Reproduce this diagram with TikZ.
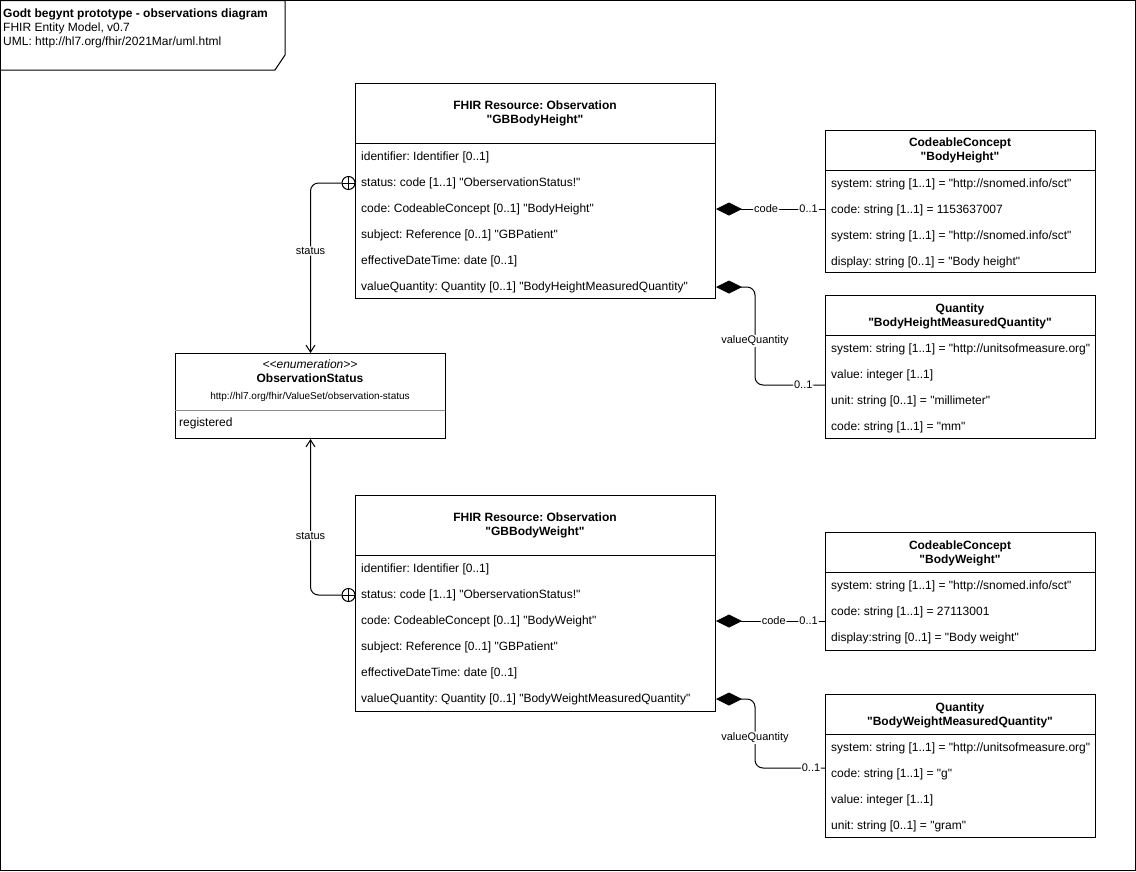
\documentclass[tikz,border=0pt]{standalone}
\usepackage{fontspec}
\setmainfont{Liberation Sans}[Ligatures=TeXOff]
\usetikzlibrary{arrows.meta}
\frenchspacing
\begin{document}
\begin{tikzpicture}[x=1pt,y=-1pt,
  box/.style={draw, line width=1pt, inner sep=0, anchor=north west},
  row/.style={anchor=west, inner sep=0, font=\fontsize{12}{14}\selectfont},
  hdr/.style={inner sep=0, align=center, font=\fontsize{12}{14}\selectfont\bfseries},
  lbl/.style={fill=white, inner sep=1pt, font=\fontsize{11}{13}\selectfont},
  comp/.style={line width=1pt, {Diamond[length=26pt,width=13pt]}-, rounded corners=8pt},
  assoc/.style={line width=1pt, -{Straight Barb[length=7pt,width=9pt]}, rounded corners=8pt},
  sep/.style={line width=1pt},
  cplus/.style={circle, draw, line width=1pt, fill=white, minimum size=13pt, inner sep=0}
]
\useasboundingbox (0,0) rectangle (1136,871);
% frame
\draw[line width=1pt] (0.5,0.5) rectangle (1135.5,870.5);
\draw[line width=1pt] (0.5,0.5) -- (285,0.5) -- (285,55) -- (275,70) -- (0.5,70);
\node[row, font=\fontsize{12}{14}\selectfont\bfseries] (t1) at (3,14) {Godt begynt prototype - observations diagram};
\node[row] (t2) at (3,28) {FHIR Entity Model, v0.7};
\node[row] (t3) at (3,42) {UML: http://hl7.org/fhir/2021Mar/uml.html};

% Observation 1
\node[box, minimum width=360pt, minimum height=215pt] (obs1) at (355,83) {};
\draw[sep] (355,143) -- (715,143);
\node[hdr] (o1h) at (535,113) {FHIR Resource: Observation\\"GBBodyHeight"};
\node[row] (o1r1) at (361,157) {identifier: Identifier [0..1]};
\node[row] (o1r2) at (361,183) {status: code [1..1] "OberservationStatus!"};
\node[row] (o1r3) at (361,209) {code: CodeableConcept [0..1] "BodyHeight"};
\node[row] (o1r4) at (361,235) {subject: Reference [0..1] "GBPatient"};
\node[row] (o1r5) at (361,261) {effectiveDateTime: date [0..1]};
\node[row] (o1r6) at (361,287) {valueQuantity: Quantity [0..1] "BodyHeightMeasuredQuantity"};

% CodeableConcept BodyHeight
\node[box, minimum width=270pt, minimum height=142pt] (cc1) at (825,130) {};
\draw[sep] (825,170) -- (1095,170);
\node[hdr] (cc1h) at (960,150) {CodeableConcept\\"BodyHeight"};
\node[row] (cc1r1) at (831,184) {system: string [1..1] = "http://snomed.info/sct"};
\node[row] (cc1r2) at (831,210) {code: string [1..1] = 1153637007};
\node[row] (cc1r3) at (831,236) {system: string [1..1] = "http://snomed.info/sct"};
\node[row] (cc1r4) at (831,262) {display: string [0..1] = "Body height"};

% Quantity BodyHeightMeasuredQuantity
\node[box, minimum width=270pt, minimum height=143pt] (q1) at (825,295) {};
\draw[sep] (825,335) -- (1095,335);
\node[hdr] (q1h) at (960,316) {Quantity\\"BodyHeightMeasuredQuantity"};
\node[row] (q1r1) at (831,349) {system: string [1..1] = "http://unitsofmeasure.org"};
\node[row] (q1r2) at (831,375) {value: integer [1..1]};
\node[row] (q1r3) at (831,401) {unit: string [0..1] = "millimeter"};
\node[row] (q1r4) at (831,427) {code: string [1..1] = "mm"};

% ObservationStatus enumeration
\node[box, minimum width=270pt, minimum height=85pt] (enum) at (175,353) {};
\draw[line width=0.6pt, black!45] (175,410) -- (445,410);
\node[inner sep=0, font=\fontsize{12}{14}\selectfont\itshape] (e1) at (310,364) {<<enumeration>>};
\node[inner sep=0, font=\fontsize{12}{14}\selectfont\bfseries] (e2) at (310,378) {ObservationStatus};
\node[inner sep=0, font=\fontsize{10}{12}\selectfont] (e3) at (310,397) {http://hl7.org/fhir/ValueSet/observation-status};
\node[row] (er1) at (179,423) {registered};

% Observation 2
\node[box, minimum width=360pt, minimum height=216pt] (obs2) at (355,495) {};
\draw[sep] (355,555) -- (715,555);
\node[hdr] (o2h) at (535,525) {FHIR Resource: Observation\\"GBBodyWeight"};
\node[row] (o2r1) at (361,569) {identifier: Identifier [0..1]};
\node[row] (o2r2) at (361,595) {status: code [1..1] "OberservationStatus!"};
\node[row] (o2r3) at (361,621) {code: CodeableConcept [0..1] "BodyWeight"};
\node[row] (o2r4) at (361,647) {subject: Reference [0..1] "GBPatient"};
\node[row] (o2r5) at (361,673) {effectiveDateTime: date [0..1]};
\node[row] (o2r6) at (361,699) {valueQuantity: Quantity [0..1] "BodyWeightMeasuredQuantity"};

% CodeableConcept BodyWeight
\node[box, minimum width=270pt, minimum height=118pt] (cc2) at (825,532) {};
\draw[sep] (825,572) -- (1095,572);
\node[hdr] (cc2h) at (960,553) {CodeableConcept\\"BodyWeight"};
\node[row] (cc2r1) at (831,586) {system: string [1..1] = "http://snomed.info/sct"};
\node[row] (cc2r2) at (831,612) {code: string [1..1] = 27113001};
\node[row] (cc2r3) at (831,638) {display:string [0..1] = "Body weight"};

% Quantity BodyWeightMeasuredQuantity
\node[box, minimum width=270pt, minimum height=143pt] (q2) at (825,694) {};
\draw[sep] (825,734) -- (1095,734);
\node[hdr] (q2h) at (960,715) {Quantity\\"BodyWeightMeasuredQuantity"};
\node[row] (q2r1) at (831,748) {system: string [1..1] = "http://unitsofmeasure.org"};
\node[row] (q2r2) at (831,774) {code: string [1..1] = "g"};
\node[row] (q2r3) at (831,800) {value: integer [1..1]};
\node[row] (q2r4) at (831,826) {unit: string [0..1] = "gram"};

% status associations
\node[cplus] (c1) at (348.5,183) {};
\draw[line width=1pt] (c1.north) -- (c1.south) (c1.west) -- (c1.east);
\draw[assoc] (c1.west) -| node[lbl, pos=0.7] {status} (enum.north);
\node[cplus] (c2) at (348.5,595) {};
\draw[line width=1pt] (c2.north) -- (c2.south) (c2.west) -- (c2.east);
\draw[assoc] (c2.west) -| node[lbl, pos=0.69] {status} (enum.south);

% compositions
\draw[comp] (obs1.east |- o1r3) -- node[lbl, pos=0.46] {code} node[lbl, pos=0.85] {0..1} (cc1.west |- o1r3);
\coordinate (vq1) at (755,385);
\draw[comp] (obs1.east |- o1r6) -| node[lbl, pos=0.775] {valueQuantity} (vq1) -- node[lbl, pos=0.69] {0..1} (q1.west |- vq1);
\draw[comp] (obs2.east |- o2r3) -- node[lbl, pos=0.53] {code} node[lbl, pos=0.85] {0..1} (cc2.west |- o2r3);
\coordinate (vq2) at (755,768);
\draw[comp] (obs2.east |- o2r6) -| node[lbl, pos=0.78] {valueQuantity} (vq2) -- node[lbl, pos=0.8] {0..1} (q2.west |- vq2);
\end{tikzpicture}
\end{document}
